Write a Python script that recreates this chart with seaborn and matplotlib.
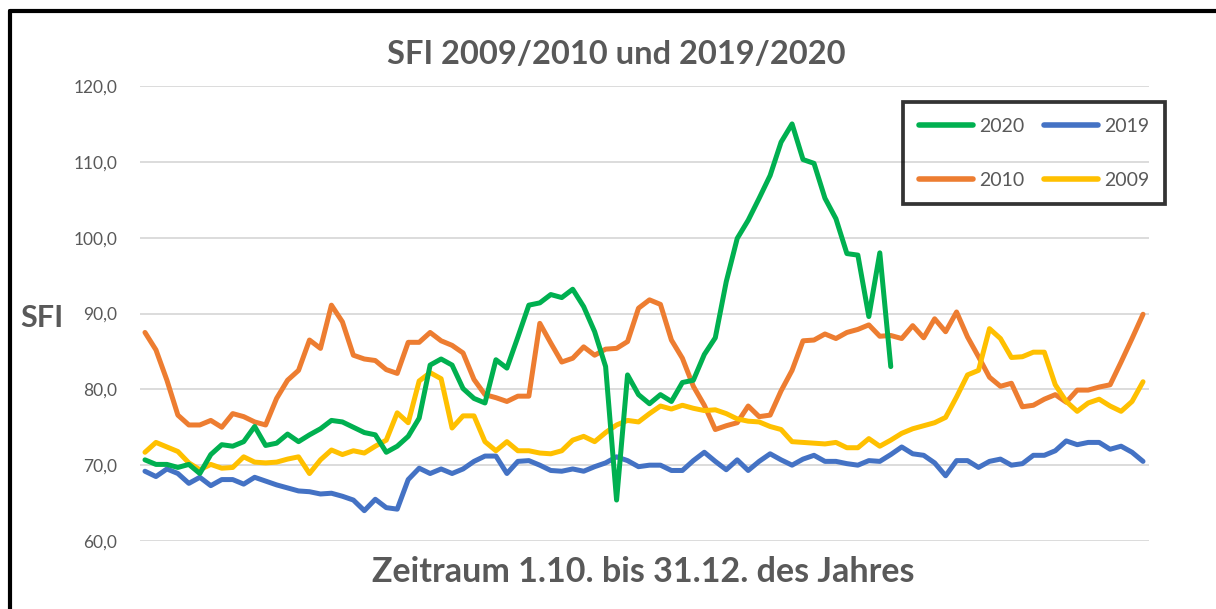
import numpy as np
import pandas as pd
import matplotlib
matplotlib.use('Agg')
import matplotlib.pyplot as plt
from matplotlib.lines import Line2D
from matplotlib.ticker import FuncFormatter
import seaborn as sns
sns.set_style('white')
plt.rcParams['font.family'] = ['Lato', 'DejaVu Sans']

# SFI-Werte, Tag 1 = 1.10., letzter = 31.12.
sfi_2020 = [70.7, 70.1, 70.1, 69.7, 70.1, 68.9, 71.4, 72.7, 72.5, 73.1,
            75.1, 72.6, 72.9, 74.1, 73.1, 74.0, 74.8, 75.9, 75.7, 75.0,
            74.3, 74.0, 71.7, 72.5, 73.8, 76.2, 83.2, 84.0, 83.2, 80.1,
            78.8, 78.2, 83.9, 82.8, 86.9, 91.1, 91.4, 92.5, 92.1, 93.2,
            90.9, 87.6, 83.0, 65.4, 81.9, 79.3, 78.1, 79.3, 78.4, 80.9,
            81.2, 84.6, 86.8, 94.2, 99.9, 102.3, 105.2, 108.2, 112.6, 115.0,
            110.3, 109.8, 105.2, 102.5, 97.9, 97.7, 89.6, 98.0, 83.0]

sfi_2019 = [69.2, 68.5, 69.5, 68.9, 67.6, 68.4, 67.3, 68.1, 68.1, 67.5,
            68.4, 67.9, 67.4, 67.0, 66.6, 66.5, 66.2, 66.3, 65.9, 65.4,
            64.0, 65.5, 64.4, 64.2, 68.1, 69.6, 68.9, 69.5, 68.9, 69.5,
            70.5, 71.2, 71.2, 68.9, 70.5, 70.6, 70.0, 69.3, 69.2, 69.5,
            69.2, 69.8, 70.3, 71.1, 70.6, 69.8, 70.0, 70.0, 69.3, 69.3,
            70.6, 71.7, 70.5, 69.4, 70.7, 69.3, 70.5, 71.5, 70.7, 70.0,
            70.8, 71.3, 70.5, 70.5, 70.2, 70.0, 70.6, 70.5, 71.4, 72.4,
            71.5, 71.3, 70.3, 68.6, 70.6, 70.6, 69.7, 70.5, 70.8, 70.0,
            70.2, 71.3, 71.3, 71.9, 73.2, 72.7, 73.0, 73.0, 72.1, 72.5,
            71.7, 70.5]

sfi_2010 = [87.5, 85.2, 81.2, 76.6, 75.3, 75.3, 75.9, 75.0, 76.8, 76.4,
            75.7, 75.3, 78.8, 81.2, 82.5, 86.5, 85.4, 91.1, 88.9, 84.5,
            84.0, 83.8, 82.6, 82.1, 86.2, 86.2, 87.5, 86.4, 85.8, 84.8,
            81.3, 79.3, 78.9, 78.4, 79.1, 79.1, 88.7, 86.1, 83.6, 84.1,
            85.6, 84.5, 85.3, 85.4, 86.3, 90.7, 91.8, 91.2, 86.5, 84.1,
            80.4, 77.9, 74.7, 75.2, 75.6, 77.8, 76.4, 76.6, 79.8, 82.5,
            86.4, 86.5, 87.3, 86.7, 87.5, 87.9, 88.5, 87.0, 87.1, 86.7,
            88.4, 86.8, 89.3, 87.6, 90.2, 86.9, 84.3, 81.6, 80.4, 80.8,
            77.7, 77.9, 78.7, 79.3, 78.3, 79.9, 79.9, 80.3, 80.6, 83.6,
            86.7, 89.9]

sfi_2009 = [71.7, 73.0, 72.4, 71.8, 70.3, 69.4, 70.1, 69.6, 69.7, 71.1,
            70.4, 70.3, 70.4, 70.8, 71.1, 68.9, 70.7, 72.0, 71.4, 71.9,
            71.6, 72.5, 73.3, 76.9, 75.6, 81.1, 82.2, 81.4, 74.9, 76.5,
            76.5, 73.1, 71.9, 73.1, 71.9, 71.9, 71.6, 71.5, 71.9, 73.3,
            73.8, 73.1, 74.3, 75.3, 75.9, 75.7, 76.8, 77.8, 77.4, 77.9,
            77.5, 77.2, 77.3, 76.8, 76.1, 75.8, 75.7, 75.1, 74.7, 73.1,
            73.0, 72.9, 72.8, 73.0, 72.3, 72.3, 73.5, 72.5, 73.3, 74.2,
            74.8, 75.2, 75.6, 76.3, 79.0, 81.9, 82.5, 88.0, 86.7, 84.2,
            84.3, 84.9, 84.9, 80.6, 78.4, 77.1, 78.2, 78.7, 77.8, 77.1,
            78.4, 81.0]

series = {'2020': sfi_2020, '2019': sfi_2019, '2010': sfi_2010, '2009': sfi_2009}
colors = {'2020': '#00b050', '2019': '#4472c4', '2010': '#ed7d31', '2009': '#ffc000'}

frames = []
for year, vals in series.items():
    frames.append(pd.DataFrame({'tag': np.arange(len(vals)), 'sfi': vals, 'jahr': year}))
df = pd.concat(frames, ignore_index=True)

grau = '#595959'

fig = plt.figure(figsize=(12.16, 6.09), dpi=100)
ax = fig.add_axes([139.5 / 1216, 1 - 541 / 609, 1009 / 1216, 455 / 609])

sns.lineplot(data=df, x='tag', y='sfi', hue='jahr',
             hue_order=['2019', '2010', '2009', '2020'], palette=colors,
             lw=3.6, legend=False, ax=ax, solid_capstyle='round')

ax.set_xlim(-0.5, 91.5)
ax.set_ylim(60, 120)
ax.set_yticks(np.arange(60, 121, 10))
ax.yaxis.set_major_formatter(FuncFormatter(lambda v, p: f'{v:.1f}'.replace('.', ',')))
ax.set_xticks([])
ax.yaxis.grid(True, color='#d9d9d9', lw=1.3)
ax.set_axisbelow(True)
for s in ax.spines.values():
    s.set_visible(False)
ax.tick_params(axis='y', length=0, pad=16, labelsize=12.5, labelcolor=grau)

ax.set_ylabel('SFI', rotation=0, fontsize=22, fontweight='bold', color=grau, va='center')
ax.yaxis.set_label_coords(-0.097, 0.49)
ax.set_xlabel('Zeitraum 1.10. bis 31.12. des Jahres', fontsize=24.5,
              fontweight='bold', color=grau, va='center')
ax.xaxis.set_label_coords(0.499, -0.068)

fig.text(616 / 1216, 1 - 55 / 609, 'SFI 2009/2010 und 2019/2020', ha='center',
         va='center', fontsize=23.5, fontweight='bold', color=grau)

handles = [Line2D([], [], color=colors[y], lw=4, solid_capstyle='round') for y in ['2020', '2010', '2019', '2009']]
leg = ax.legend(handles, ['2020', '2010', '2019', '2009'], ncol=2, loc='upper left',
                bbox_to_anchor=(0.7567, 0.9648), borderaxespad=0, fontsize=14,
                frameon=True, fancybox=False, handlelength=2.8, handletextpad=0.3,
                columnspacing=1.0, labelspacing=1.9, borderpad=0.8)
leg.get_frame().set_edgecolor('black')
leg.get_frame().set_linewidth(2.7)
leg.get_frame().set_facecolor('none')
for t in leg.get_texts():
    t.set_color(grau)

# Rahmen oben und links
fig.add_artist(Line2D([10 / 1216, 1.0], [1 - 11 / 609, 1 - 11 / 609], color='black', lw=3,
                      transform=fig.transFigure))
fig.add_artist(Line2D([10 / 1216, 10 / 1216], [0, 1 - 11 / 609], color='black', lw=3,
                      transform=fig.transFigure))

fig.savefig('out.png', dpi=100)
